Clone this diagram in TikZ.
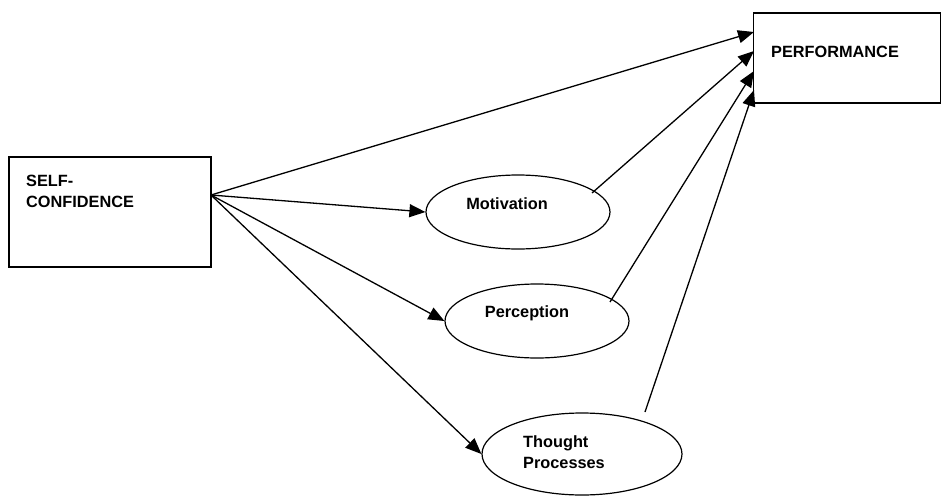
\documentclass[tikz,border=0pt]{standalone}
\usepackage{fontspec}
\setmainfont{Liberation Sans}
\usetikzlibrary{arrows.meta,shapes.geometric}
\begin{document}
\begin{tikzpicture}[x=1pt,y=-1pt,
  box/.style={draw, line width=1.3pt, inner sep=0pt},
  oval/.style={draw, ellipse, line width=1.2pt, inner sep=0pt},
  lbl/.style={font=\fontsize{16.3}{21}\selectfont\bfseries, inner sep=0pt},
  conn/.style={line width=1.3pt},
  arr/.style={conn, -{Triangle[length=16pt,width=13pt]}}]
\useasboundingbox (0,0) rectangle (942,498);
% boxes
\node[box, minimum width=202pt, minimum height=110pt] (sc) at (110,212) {};
\node[lbl, anchor=base west, align=left] (sctext) at (26,207) {SELF-\\CONFIDENCE};
\node[box, minimum width=187pt, minimum height=90pt] (perf) at (847,58) {};
\node[lbl, anchor=base west] (perftext) at (771,57.5) {PERFORMANCE};
% ellipses
\node[oval, minimum width=184pt, minimum height=74pt] (mot) at (518,212) {};
\node[lbl] (mottext) at (507,204) {Motivation};
\node[oval, minimum width=184pt, minimum height=74pt] (per) at (537,321) {};
\node[lbl] (pertext) at (527,313) {Perception};
\node[oval, minimum width=200pt, minimum height=82pt] (tho) at (582,454) {};
\node[lbl, anchor=west, align=left] (thotext) at (523,452) {Thought\\Processes};
% coordinates
\coordinate (o) at (211,195);
\coordinate (p1) at (754,32);
\coordinate (p2) at (754,51);
\coordinate (p3) at (754,71);
\coordinate (p4) at (754,90);
\coordinate (m1) at (592,193);
\coordinate (q1) at (610,302);
\coordinate (t1) at (645,412);
% connectors
\draw[arr] (o) -- (p1);
\draw[arr] (o) -- (mot.west);
\draw[arr] (o) -- (per.west);
\draw[arr] (o) -- (tho.west);
\draw[arr] (m1) -- (p2);
\draw[arr] (q1) -- (p3);
\draw[arr] (t1) -- (p4);
\end{tikzpicture}
\end{document}
